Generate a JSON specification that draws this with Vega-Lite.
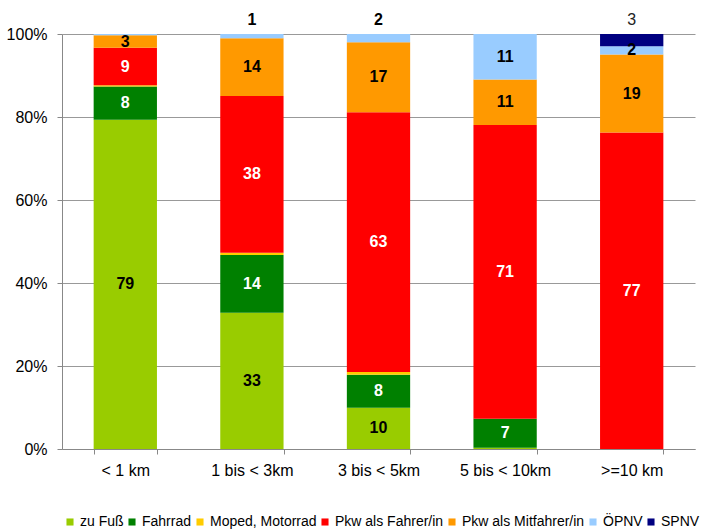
{
  "$schema": "https://vega.github.io/schema/vega-lite/v6.json",
  "width": 633,
  "height": 415,
  "autosize": {"type": "none"},
  "padding": {"left": 62, "top": 34, "right": 7, "bottom": 80},
  "config": {
    "font": "Liberation Sans",
    "view": {"stroke": null},
    "background": "white"
  },
  "datasets": {
    "modi": [
      {"Modus": "zu Fuß", "Nr": 1},
      {"Modus": "Fahrrad", "Nr": 2},
      {"Modus": "Moped, Motorrad", "Nr": 3},
      {"Modus": "Pkw als Fahrer/in", "Nr": 4},
      {"Modus": "Pkw als Mitfahrer/in", "Nr": 5},
      {"Modus": "ÖPNV", "Nr": 6},
      {"Modus": "SPNV", "Nr": 7}
    ]
  },
  "data": {
    "values": [
      {"Entfernung": "< 1 km", "Modus": "zu Fuß", "Anteil": 79},
      {"Entfernung": "< 1 km", "Modus": "Fahrrad", "Anteil": 8},
      {"Entfernung": "< 1 km", "Modus": "Moped, Motorrad", "Anteil": 0.3},
      {"Entfernung": "< 1 km", "Modus": "Pkw als Fahrer/in", "Anteil": 9},
      {"Entfernung": "< 1 km", "Modus": "Pkw als Mitfahrer/in", "Anteil": 3},
      {"Entfernung": "< 1 km", "Modus": "ÖPNV", "Anteil": 0.3},
      {"Entfernung": "1 bis < 3km", "Modus": "zu Fuß", "Anteil": 33},
      {"Entfernung": "1 bis < 3km", "Modus": "Fahrrad", "Anteil": 14},
      {"Entfernung": "1 bis < 3km", "Modus": "Moped, Motorrad", "Anteil": 0.5},
      {"Entfernung": "1 bis < 3km", "Modus": "Pkw als Fahrer/in", "Anteil": 38},
      {"Entfernung": "1 bis < 3km", "Modus": "Pkw als Mitfahrer/in", "Anteil": 14},
      {"Entfernung": "1 bis < 3km", "Modus": "ÖPNV", "Anteil": 1},
      {"Entfernung": "3 bis < 5km", "Modus": "zu Fuß", "Anteil": 10},
      {"Entfernung": "3 bis < 5km", "Modus": "Fahrrad", "Anteil": 8},
      {"Entfernung": "3 bis < 5km", "Modus": "Moped, Motorrad", "Anteil": 0.7},
      {"Entfernung": "3 bis < 5km", "Modus": "Pkw als Fahrer/in", "Anteil": 63},
      {"Entfernung": "3 bis < 5km", "Modus": "Pkw als Mitfahrer/in", "Anteil": 17},
      {"Entfernung": "3 bis < 5km", "Modus": "ÖPNV", "Anteil": 2},
      {"Entfernung": "5 bis < 10km", "Modus": "zu Fuß", "Anteil": 0.3},
      {"Entfernung": "5 bis < 10km", "Modus": "Fahrrad", "Anteil": 7},
      {"Entfernung": "5 bis < 10km", "Modus": "Pkw als Fahrer/in", "Anteil": 71},
      {"Entfernung": "5 bis < 10km", "Modus": "Pkw als Mitfahrer/in", "Anteil": 11},
      {"Entfernung": "5 bis < 10km", "Modus": "ÖPNV", "Anteil": 11},
      {"Entfernung": ">=10 km", "Modus": "Pkw als Fahrer/in", "Anteil": 77},
      {"Entfernung": ">=10 km", "Modus": "Pkw als Mitfahrer/in", "Anteil": 19},
      {"Entfernung": ">=10 km", "Modus": "ÖPNV", "Anteil": 2},
      {"Entfernung": ">=10 km", "Modus": "SPNV", "Anteil": 3}
    ]
  },
  "transform": [
    {"lookup": "Modus", "from": {"data": {"name": "modi"}, "key": "Modus", "fields": ["Nr"]}},
    {"stack": "Anteil", "groupby": ["Entfernung"], "sort": [{"field": "Nr", "order": "ascending"}], "as": ["y0", "y1"], "offset": "normalize"}
  ],
  "encoding": {
    "x": {
      "field": "Entfernung",
      "type": "nominal",
      "sort": ["< 1 km", "1 bis < 3km", "3 bis < 5km", "5 bis < 10km", ">=10 km"],
      "scale": {"paddingInner": 0.5, "paddingOuter": 0.25},
      "axis": {
        "title": null,
        "labelAngle": 0,
        "labelFontSize": 16,
        "labelColor": "#000000",
        "labelPadding": 8,
        "tickBand": "extent",
        "tickSize": 5,
        "tickColor": "#888888",
        "domainColor": "#888888",
        "grid": false
      }
    }
  },
  "layer": [
    {
      "mark": {"type": "bar"},
      "encoding": {
        "y": {
          "field": "y0",
          "type": "quantitative",
          "scale": {"domain": [0, 1], "nice": false},
          "axis": {
            "title": null,
            "format": ".0%",
            "values": [0, 0.2, 0.4, 0.6, 0.8, 1],
            "labelFontSize": 16,
            "labelColor": "#000000",
            "labelPadding": 10,
            "tickSize": 5,
            "tickColor": "#888888",
            "domainColor": "#888888",
            "grid": true,
            "gridColor": "#999999",
            "gridWidth": 1
          }
        },
        "y2": {"field": "y1"},
        "color": {
          "field": "Modus",
          "type": "nominal",
          "scale": {
            "domain": ["zu Fuß", "Fahrrad", "Moped, Motorrad", "Pkw als Fahrer/in", "Pkw als Mitfahrer/in", "ÖPNV", "SPNV"],
            "range": ["#99cc00", "#008000", "#ffcc00", "#ff0000", "#ff9900", "#99ccff", "#000080"]
          },
          "legend": {
            "title": null,
            "orient": "none",
            "direction": "horizontal",
            "columns": 7,
            "legendX": 1,
            "legendY": 481,
            "symbolType": "square",
            "symbolSize": 50,
            "symbolStrokeWidth": 0,
            "labelFontSize": 14,
            "labelColor": "#000000",
            "labelOffset": 3,
            "columnPadding": 1,
            "labelLimit": 300
          }
        }
      }
    },
    {
      "transform": [
        {"filter": "datum.Anteil >= 2.5 || (datum.Modus == 'ÖPNV' && datum.Entfernung == '>=10 km')"},
        {"filter": "datum.Modus != 'SPNV'"},
        {"fold": ["y0", "y1"], "as": ["Grenze", "Wert"]},
        {"aggregate": [{"op": "mean", "field": "Wert", "as": "ymitte"}], "groupby": ["Entfernung", "Modus", "Anteil"]}
      ],
      "mark": {"type": "text", "fontWeight": "bold", "fontSize": 16, "baseline": "middle"},
      "encoding": {
        "y": {"field": "ymitte", "type": "quantitative"},
        "text": {"field": "Anteil", "type": "quantitative", "format": ".0f"},
        "color": {
          "condition": {"test": "datum.Modus == 'Fahrrad' || datum.Modus == 'Pkw als Fahrer/in'", "value": "white"},
          "value": "black"
        }
      }
    },
    {
      "transform": [
        {"filter": "datum.Modus == 'ÖPNV' && (datum.Entfernung == '1 bis < 3km' || datum.Entfernung == '3 bis < 5km')"}
      ],
      "mark": {"type": "text", "fontSize": 16, "fontWeight": "bold", "baseline": "middle", "dy": -14, "color": "black"},
      "encoding": {
        "y": {"datum": 1, "type": "quantitative"},
        "text": {"field": "Anteil", "type": "quantitative", "format": ".0f"}
      }
    },
    {
      "transform": [
        {"filter": "datum.Modus == 'SPNV'"}
      ],
      "mark": {"type": "text", "fontSize": 16, "fontWeight": "normal", "baseline": "middle", "dy": -14, "color": "#222222"},
      "encoding": {
        "y": {"datum": 1, "type": "quantitative"},
        "text": {"field": "Anteil", "type": "quantitative", "format": ".0f"}
      }
    }
  ]
}
